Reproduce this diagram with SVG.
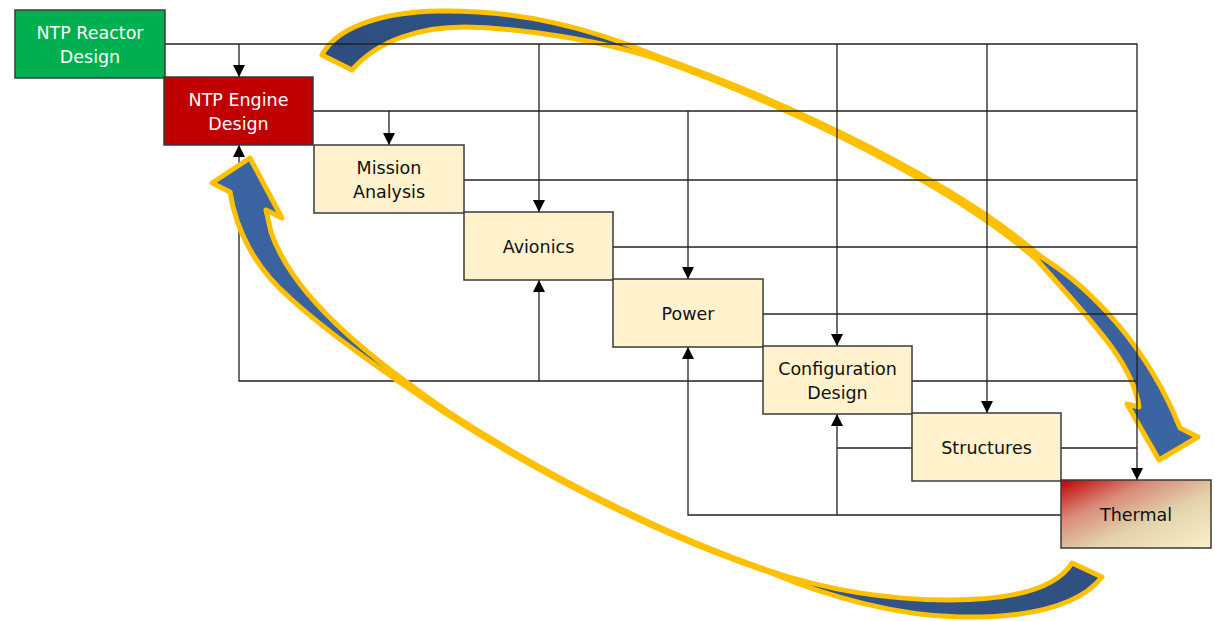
<svg xmlns="http://www.w3.org/2000/svg" width="1215" height="621" viewBox="0 0 1215 621">
<style>
.box{stroke:#3a3a3a;stroke-width:1.5}
.beige{fill:#fff2cc}
.lbl{font-family:"DejaVu Sans","Liberation Sans",sans-serif;font-size:17.5px;text-anchor:middle;fill:#111}
.wht{fill:#fff}
.big{stroke:#ffc000;stroke-width:5;stroke-linejoin:round}
</style>
<defs>
<marker id="ah" viewBox="0 0 12 12" refX="12" refY="6" markerWidth="12" markerHeight="12" markerUnits="userSpaceOnUse" orient="auto">
<path d="M0,0 L12,6 L0,12 z" fill="#000"/>
</marker>
<linearGradient id="gTop" gradientUnits="userSpaceOnUse" x1="320" y1="40" x2="1160" y2="440">
<stop offset="0" stop-color="#2d4e7e"/><stop offset="1" stop-color="#3b64a2"/>
</linearGradient>
<linearGradient id="gBot" gradientUnits="userSpaceOnUse" x1="1100" y1="580" x2="250" y2="160">
<stop offset="0" stop-color="#2f5080"/><stop offset="1" stop-color="#3b64a2"/>
</linearGradient>
<linearGradient id="gTherm" x1="0" y1="0" x2="1" y2="1">
<stop offset="0" stop-color="#c00000"/><stop offset="0.3" stop-color="#d88a78"/><stop offset="0.6" stop-color="#e3d3ad"/><stop offset="1" stop-color="#fbf0cb"/>
</linearGradient>
</defs>

<g id="arrow-top">
<path class="big" fill="url(#gTop)" d="M322,55 C335,30 375,12 440,11 C520,10 590,28 657,56 C800,106 960,186 1040,256 C1095,290 1150,352 1180,428 L1198,437 L1159,460 L1127,404 L1139,407 C1133,362 1090,320 1037,260 C958,190 800,110 657,59 C600,40 520,28 465,27 C420,27 378,40 352,70 Z"/>
</g>

<g id="connectors" fill="none" stroke="#222" stroke-width="1.3">
<path d="M165,44 H1137 V480" marker-end="url(#ah)"/>
<path d="M239,44 V77" marker-end="url(#ah)"/>
<path d="M539,44 V212" marker-end="url(#ah)"/>
<path d="M837,44 V346" marker-end="url(#ah)"/>
<path d="M987,44 V413" marker-end="url(#ah)"/>
<path d="M313,111 H1137"/>
<path d="M389,111 V145" marker-end="url(#ah)"/>
<path d="M688,111 V279" marker-end="url(#ah)"/>
<path d="M464,180 H1137"/>
<path d="M613,247 H1137"/>
<path d="M763,314 H1137"/>
<path d="M912,381 H1137"/>
<path d="M763,381 H239 V145" marker-end="url(#ah)"/>
<path d="M539,381 V280" marker-end="url(#ah)"/>
<path d="M1061,448 H1137"/>
<path d="M912,448 H837"/>
<path d="M1061,515 H688 V347" marker-end="url(#ah)"/>
<path d="M837,515 V414" marker-end="url(#ah)"/>
</g>

<g id="node-reactor">
<rect class="box" x="15" y="10" width="150" height="68" fill="#00b050"/>
<text class="lbl wht" x="90" y="38.5">NTP Reactor</text>
<text class="lbl wht" x="90" y="62.5">Design</text>
</g>
<g id="node-engine">
<rect class="box" x="164" y="77" width="149" height="68" fill="#c00000"/>
<text class="lbl wht" x="238.5" y="105.5">NTP Engine</text>
<text class="lbl wht" x="238.5" y="129.5">Design</text>
</g>
<g id="node-mission">
<rect class="box beige" x="314" y="145" width="150" height="68"/>
<text class="lbl" x="389" y="173.5">Mission</text>
<text class="lbl" x="389" y="197.5">Analysis</text>
</g>
<g id="node-avionics">
<rect class="box beige" x="464" y="212" width="149" height="68"/>
<text class="lbl" x="538.5" y="252.5">Avionics</text>
</g>
<g id="node-power">
<rect class="box beige" x="613" y="279" width="150" height="68"/>
<text class="lbl" x="688" y="319.5">Power</text>
</g>
<g id="node-config">
<rect class="box beige" x="763" y="346" width="149" height="68"/>
<text class="lbl" x="837.5" y="374.5">Configuration</text>
<text class="lbl" x="837.5" y="398.5">Design</text>
</g>
<g id="node-structures">
<rect class="box beige" x="912" y="413" width="149" height="68"/>
<text class="lbl" x="986.5" y="453.5">Structures</text>
</g>
<g id="node-thermal">
<rect class="box" x="1061" y="480" width="150" height="68" fill="url(#gTherm)"/>
<text class="lbl" x="1136" y="520.5">Thermal</text>
</g>

<g id="arrow-bottom">
<path class="big" fill="url(#gBot)" d="M1072,563 C1055,590 1010,600 950,600 C880,600 820,588 767,570 C680,540 560,485 447,411 C395,375 295,305 271,232 L266,210 L282,218 L250,158 L212,183 L230,192 C236,230 255,268 290,298 C330,335 390,376 445,413 C559,487 679,542 769,572 C830,598 900,616 960,617 C1030,618 1080,605 1102,577 Z"/>
</g>
</svg>
